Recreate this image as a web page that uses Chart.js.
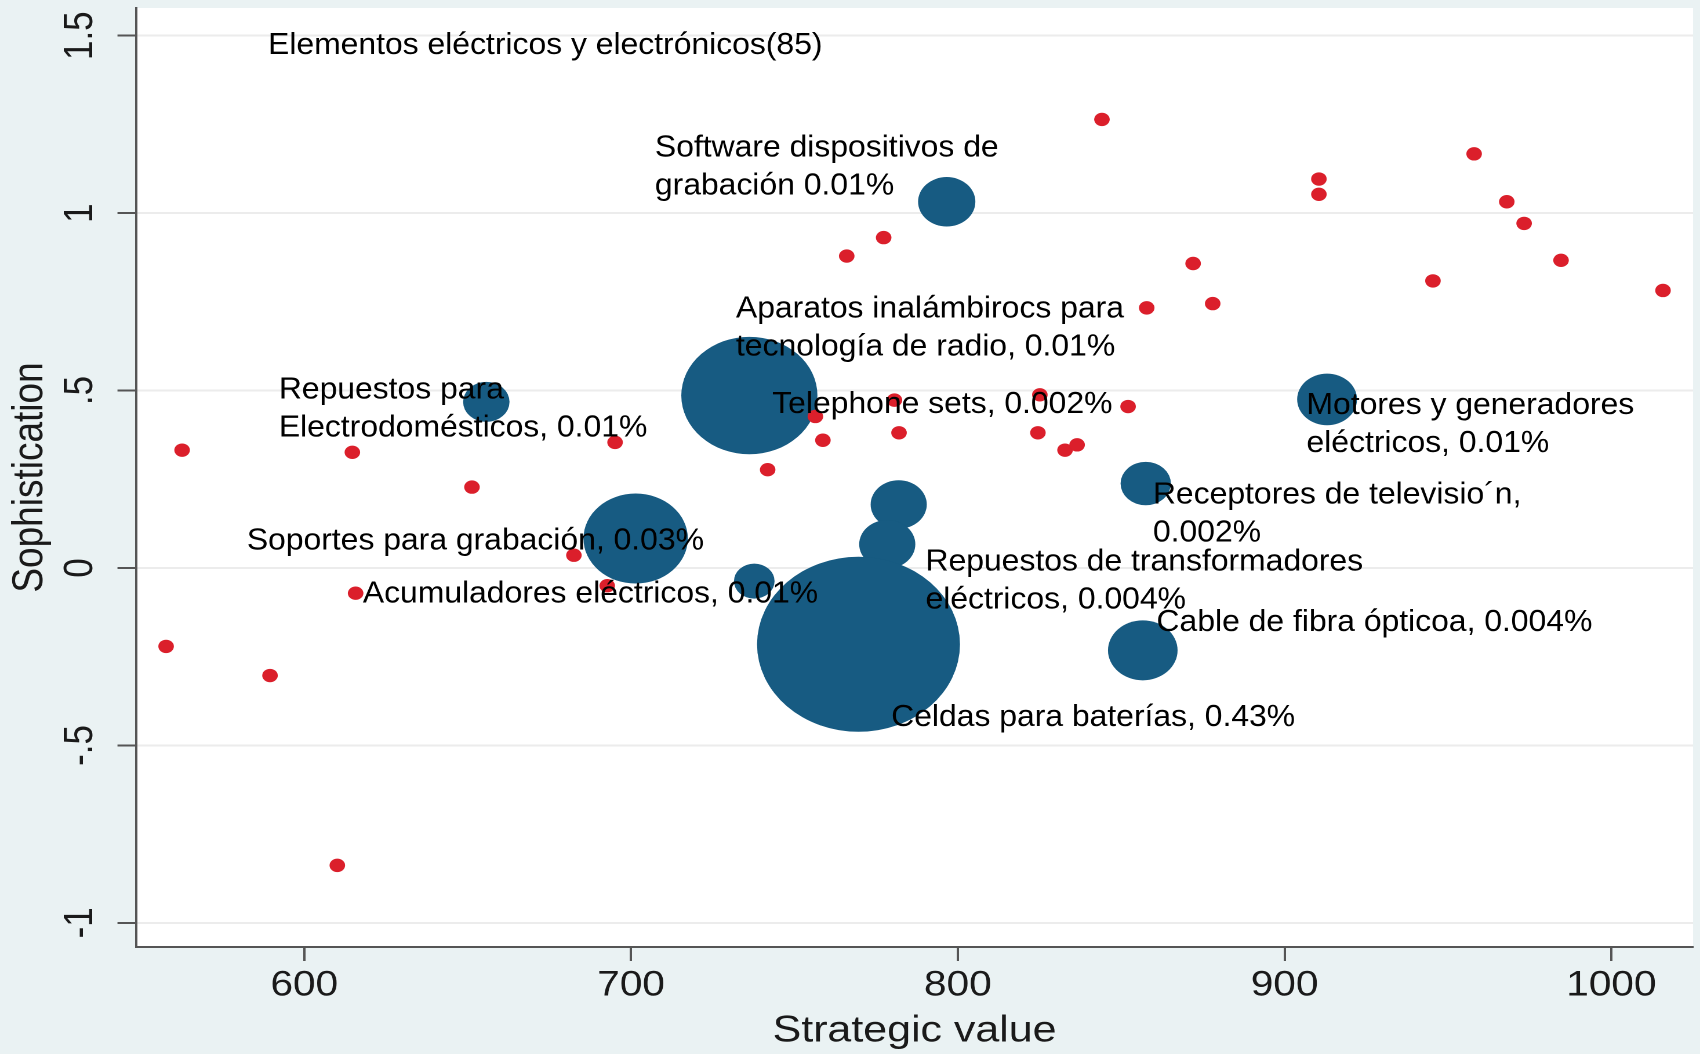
<!DOCTYPE html>
<html>
<head>
<meta charset="utf-8">
<title>Elementos eléctricos y electrónicos</title>
<script src="https://cdn.jsdelivr.net/npm/chart.js@4.4.1/dist/chart.umd.min.js"></script>
<style>
  html, body { margin: 0; padding: 0; background: #eaf2f3; overflow: hidden; }
  /* the original graph was pasted stretched sideways, so the chart is drawn narrow and stretched back */
  #wrap { width: 1466px; height: 1054px; transform: scaleX(1.15962); transform-origin: 0 0; }
</style>
</head>
<body>
<div id="wrap"><canvas id="bubbleChart"></canvas></div>
<script>
const STRETCH = 1700 / 1466;
const FONT = "'Liberation Sans', Arial, Helvetica, sans-serif";

// axis ticks
const xTicks = [600, 700, 800, 900, 1000];
const yTicks = [-1, -0.5, 0, 0.5, 1, 1.5];
const yTickLabels = ['-1', '-.5', '0', '.5', '1', '1.5'];

// small red markers: products of the group
const dotX = [562.6, 557.7, 589.5, 610.1, 614.7, 615.7, 651.3, 695.1, 682.5, 692.7,
              741.8, 756.4, 758.7, 766.0, 777.3, 780.6, 782.0, 825.1, 824.5, 832.8,
              836.5, 844.1, 852.1, 857.8, 872.0, 878.0, 910.5, 910.5, 945.4, 958.0,
              968.0, 973.3, 984.6, 1015.8];
const dotY = [0.332, -0.221, -0.303, -0.838, 0.326, -0.071, 0.228, 0.354, 0.036, -0.050,
              0.277, 0.427, 0.360, 0.879, 0.931, 0.473, 0.381, 0.488, 0.381, 0.332,
              0.347, 1.264, 0.455, 0.733, 0.858, 0.745, 1.096, 1.053, 0.809, 1.167,
              1.032, 0.971, 0.867, 0.782];

// blue bubbles: exported products
const bubbleX = [796.6, 736.2, 655.7, 701.4, 737.7, 781.9, 778.4, 769.6, 857.5, 856.6, 913.0];
const bubbleY = [1.032, 0.486, 0.468, 0.083, -0.037, 0.179, 0.067, -0.215, 0.238, -0.232, 0.475];
const bubbleR = [24.7, 58.7, 20, 45, 17.5, 24.2, 24.2, 87.5, 21.7, 30, 25.8];

// text labels placed on the plot
const noteText = [
  ['Elementos eléctricos y electrónicos(85)'],
  ['Software dispositivos de', 'grabación 0.01%'],
  ['Aparatos inalámbirocs para', 'tecnología de radio, 0.01%'],
  ['Repuestos para', 'Electrodomésticos, 0.01%'],
  ['Telephone sets, 0.002%'],
  ['Motores y generadores', 'eléctricos, 0.01%'],
  ['Receptores de televisio´n,', '0.002%'],
  ['Soportes para grabación, 0.03%'],
  ['Repuestos de transformadores', 'eléctricos, 0.004%'],
  ['Acumuladores eléctricos, 0.01%'],
  ['Cable de fibra ópticoa, 0.004%'],
  ['Celdas para baterías, 0.43%']
];
const noteX = [588.9, 707.3, 732.1, 592.2, 743.2, 906.7, 859.7, 582.4, 790.1, 617.9, 860.8, 779.6];
const noteY = [1.472, 1.183, 0.729, 0.502, 0.461, 0.457, 0.205, 0.076, 0.017, -0.074, -0.154, -0.422];

const backgroundPlugin = {
  id: 'plotBackground',
  beforeDraw(chart) {
    const { ctx, chartArea: a } = chart;
    ctx.save();
    ctx.fillStyle = '#eaf2f3';
    ctx.fillRect(0, 0, chart.width, chart.height);
    ctx.fillStyle = '#ffffff';
    ctx.fillRect(a.left, a.top, a.right - a.left, a.bottom - a.top);
    ctx.restore();
  }
};

const notesPlugin = {
  id: 'notes',
  afterDatasetsDraw(chart) {
    const { ctx, scales } = chart;
    ctx.save();
    ctx.fillStyle = '#000';
    ctx.font = '30.5px ' + FONT;
    ctx.textAlign = 'left';
    ctx.textBaseline = 'middle';
    noteText.forEach((lines, i) => {
      const px = scales.x.getPixelForValue(noteX[i]);
      const py = scales.y.getPixelForValue(noteY[i]);
      ctx.save();
      ctx.translate(px, py);
      ctx.scale(1.045 / STRETCH, 1);
      lines.forEach((line, j) => ctx.fillText(line, 0, j * 38));
      ctx.restore();
    });
    ctx.restore();
  }
};

new Chart(document.getElementById('bubbleChart'), {
  type: 'bubble',
  data: {
    datasets: [
      {
        type: 'scatter',
        order: 0,
        data: dotX.map((x, i) => ({ x: x, y: dotY[i] })),
        backgroundColor: '#db1f2b',
        borderWidth: 0,
        pointRadius: 6.7
      },
      {
        order: 1,
        data: bubbleX.map((x, i) => ({ x: x, y: bubbleY[i], r: bubbleR[i] })),
        backgroundColor: '#175b82',
        borderWidth: 0
      }
    ]
  },
  options: {
    responsive: true,
    maintainAspectRatio: false,
    devicePixelRatio: 2,
    animation: false,
    events: [],
    layout: { autoPadding: false, padding: { top: 8, right: 6, bottom: 0, left: 0 } },
    plugins: { legend: { display: false }, tooltip: { enabled: false } },
    scales: {
      x: {
        type: 'linear',
        min: 548.5,
        max: 1025,
        afterBuildTicks: s => { s.ticks = xTicks.map(v => ({ value: v })); },
        afterFit: s => { s.height = 107; s.paddingLeft = 0; s.paddingRight = 0; },
        ticks: {
          callback: v => String(v),
          font: { family: FONT, size: 35 }, color: '#1a1a1a', padding: 4, maxRotation: 0, autoSkip: false
        },
        grid: { drawOnChartArea: false, tickLength: 14, tickColor: '#555', tickWidth: 2 },
        border: { color: '#555', width: 2 },
        title: {
          display: true, text: 'Strategic value', color: '#1a1a1a',
          font: { family: FONT, size: 37, lineHeight: 1 }, padding: { top: 0, bottom: 4 }
        }
      },
      y: {
        type: 'linear',
        min: -1.068,
        max: 1.578,
        afterBuildTicks: s => { s.ticks = yTicks.map(v => ({ value: v })); },
        afterFit: s => { s.width = 117.3; s.paddingTop = 0; s.paddingBottom = 0; },
        ticks: {
          callback: v => yTickLabels[yTicks.indexOf(v)],
          font: { family: FONT, size: 35 }, color: '#1a1a1a',
          minRotation: 90, maxRotation: 90, crossAlign: 'center', padding: 7, autoSkip: false
        },
        grid: { color: '#ececec', lineWidth: 2, tickLength: 16, tickColor: '#555', tickWidth: 2 },
        border: { color: '#555', width: 2 },
        title: {
          display: true, text: 'Sophistication', color: '#1a1a1a',
          font: { family: FONT, size: 37, lineHeight: 1 }, padding: { top: 8, bottom: 0 }
        }
      }
    }
  },
  plugins: [backgroundPlugin, notesPlugin]
});
</script>
</body>
</html>
